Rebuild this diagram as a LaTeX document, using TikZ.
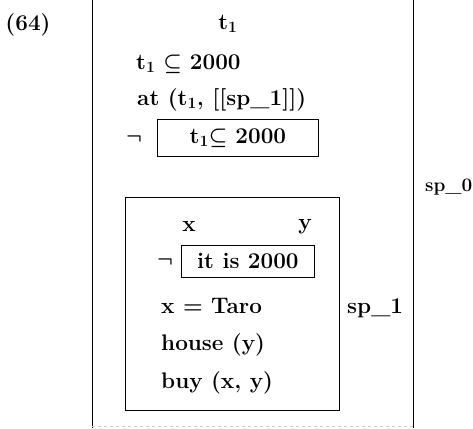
\documentclass[tikz,border=0pt]{standalone}
\usepackage{amssymb}
\usepackage{fontspec}
\begin{document}
\begin{tikzpicture}[x=1pt,y=-1pt]
% Define styles
\tikzset{
    txt/.style={font=\fontsize{22.5}{26}\selectfont\bfseries\boldmath, inner sep=0pt},
    lft/.style={txt, anchor=west},
    negbox/.style={txt, draw, line width=0.8pt, anchor=west},
    frame/.style={line width=0.9pt}
}
\useasboundingbox (0,0) rectangle (473,428);

% Example number
\node[txt] (num) at (28,25) {(64)};

% Outer box sp_0
\draw[frame] (92,0) -- (92,428);
\draw[frame] (413,0) -- (413,428);
\draw[gray!40, dashed, line width=0.6pt] (92,426) -- (413,426);
\node[txt, anchor=east, font=\fontsize{19}{22}\selectfont\bfseries] (sp0) at (472.5,187) {sp\_0};

% Outer conditions
\node[txt] (t1) at (228,24) {t\textsubscript{1}};
\node[lft] (incl) at (136,64) {t\textsubscript{1}\hspace{8pt}$\subseteq$\hspace{8pt}2000};
\node[lft] (at) at (137,100) {at (t\textsubscript{1}, [[sp\_1]])};
\node[txt] (neg1) at (134,139) {$\neg$};
\node[negbox, minimum width=161pt, minimum height=37pt] (box1) at (157,138)
    {t\textsubscript{1}$\subseteq$\hspace{8pt}2000};

% Inner box sp_1
\draw[frame] (125,197) rectangle (339,410);
\node[lft] (sp1) at (347,308) {sp\_1};

% Inner conditions
\node[txt] (x) at (189,227) {x};
\node[txt] (y) at (305,227) {y};
\node[txt] (neg2) at (165,262) {$\neg$};
\node[negbox, minimum width=133pt, minimum height=32pt] (box2) at (181,261) {it is 2000};
\node[lft] (taro) at (161,306) {x = Taro};
\node[lft] (house) at (161,345) {house (y)};
\node[lft] (buy) at (161,383) {buy (x, y)};

\end{tikzpicture}
\end{document}
